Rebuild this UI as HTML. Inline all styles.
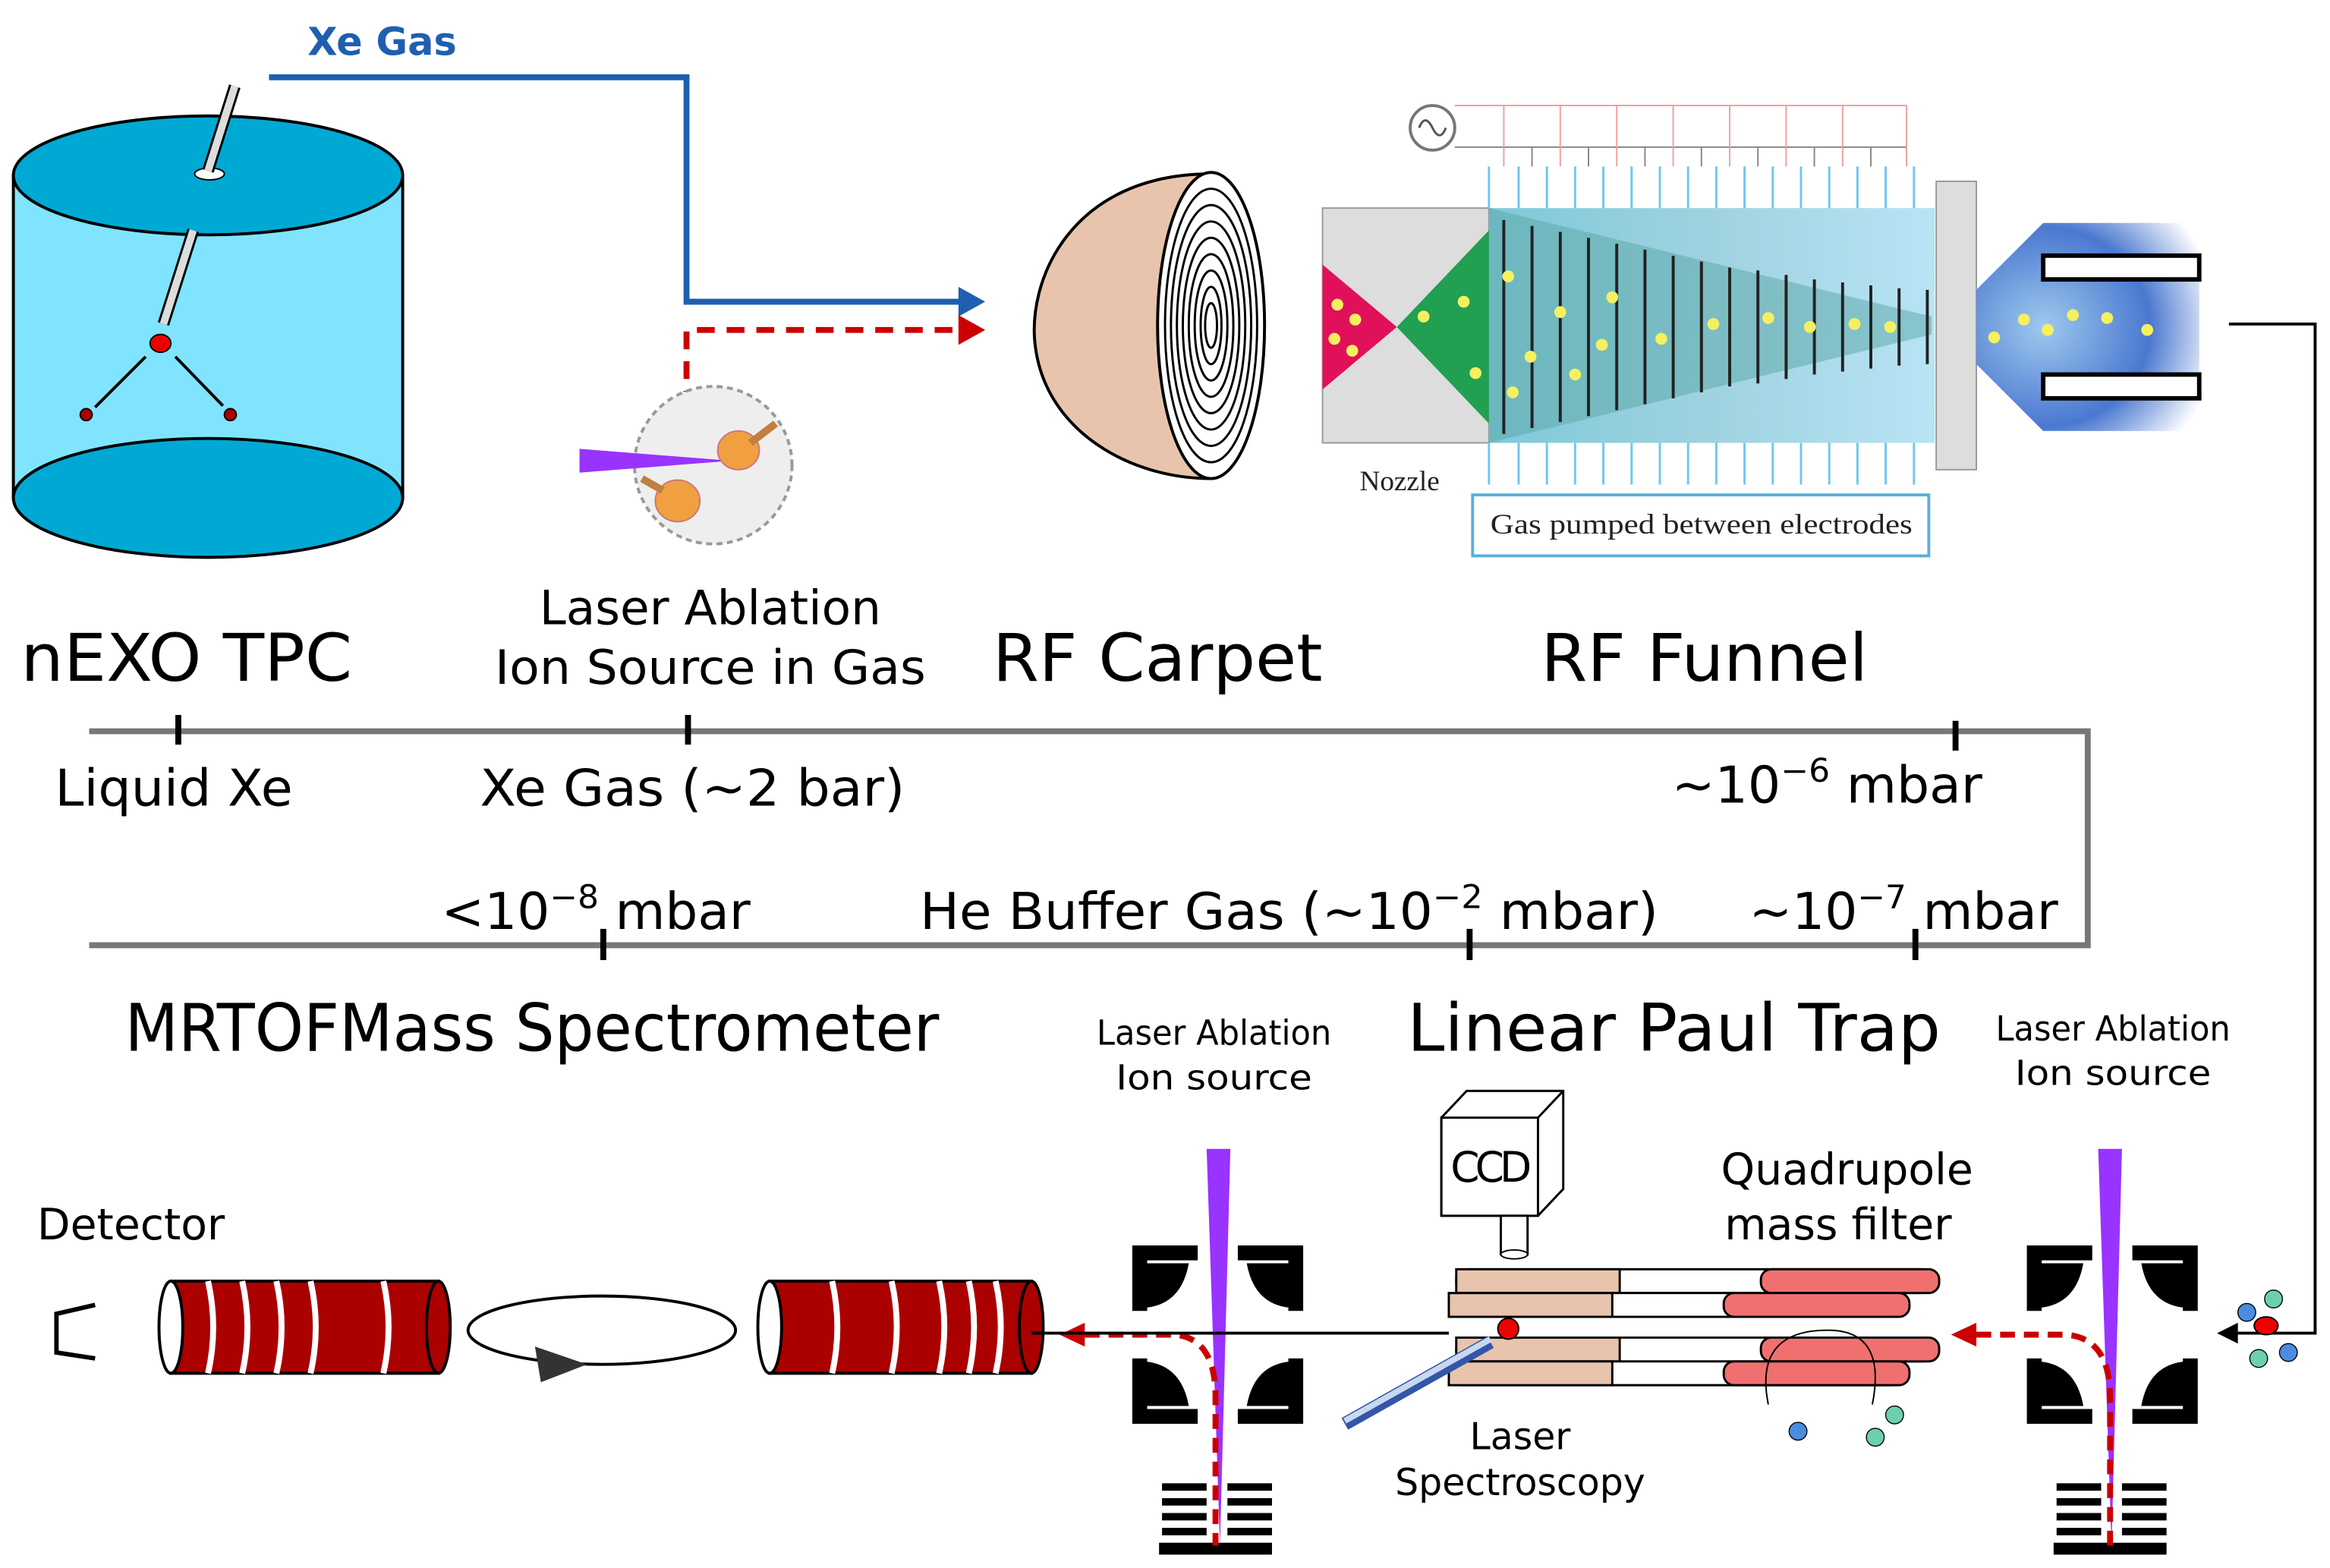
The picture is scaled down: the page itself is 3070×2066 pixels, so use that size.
<!DOCTYPE html>
<html><head><meta charset="utf-8"><style>html,body{margin:0;padding:0;background:#fff}svg{display:block}</style></head><body>
<svg width="3070" height="2066" viewBox="0 0 1568 1055" preserveAspectRatio="none" xmlns="http://www.w3.org/2000/svg" font-family="DejaVu Sans, Liberation Sans, sans-serif">
<defs>
<linearGradient id="fun" x1="0" x2="1"><stop offset="0" stop-color="#7fc9d9"/><stop offset="0.5" stop-color="#9fd2e0"/><stop offset="1" stop-color="#b8e4f5"/></linearGradient>
<radialGradient id="cone" cx="0.3" cy="0.5" r="0.8"><stop offset="0" stop-color="#9ec9ee"/><stop offset="0.6" stop-color="#4a78d0"/><stop offset="1" stop-color="#fff"/></radialGradient>
</defs>
<!-- TPC -->
<rect x="9" y="118" width="262" height="217" fill="#80e4ff" stroke="#000" stroke-width="2"/>
<ellipse cx="140" cy="335" rx="131" ry="40" fill="#00a9d4" stroke="#000" stroke-width="2"/>
<ellipse cx="140" cy="118" rx="131" ry="40" fill="#00a9d4" stroke="#000" stroke-width="2"/>
<ellipse cx="141" cy="117" rx="10" ry="4" fill="#fff" stroke="#000"/>
<line x1="158" y1="58" x2="140" y2="115" stroke="#000" stroke-width="8"/><line x1="158" y1="58" x2="140" y2="115" stroke="#ddd" stroke-width="5"/>
<line x1="130" y1="155" x2="110" y2="218" stroke="#000" stroke-width="8"/><line x1="130" y1="155" x2="110" y2="218" stroke="#ddd" stroke-width="5"/>
<ellipse cx="108" cy="231" rx="7" ry="6" fill="#e00" stroke="#000"/>
<line x1="98" y1="240" x2="64" y2="274" stroke="#000" stroke-width="2"/><line x1="118" y1="240" x2="150" y2="273" stroke="#000" stroke-width="2"/>
<ellipse cx="58" cy="279" rx="4" ry="4" fill="#a00" stroke="#000"/><ellipse cx="155" cy="279" rx="4" ry="4" fill="#a00" stroke="#000"/>
<!-- Xe gas line -->
<text x="207" y="37" font-size="26" font-weight="bold" fill="#1f5fb0">Xe Gas</text>
<polyline points="181,52 462,52 462,203 648,203" fill="none" stroke="#1f5fb0" stroke-width="4"/>
<polygon points="663,203 645,193 645,213" fill="#1f5fb0"/>
<polyline points="462,275 462,222 648,222" fill="none" stroke="#c00" stroke-width="4" stroke-dasharray="12,8"/>
<polygon points="663,222 645,212 645,232" fill="#c00"/>
<!-- ablation circle -->
<circle cx="480" cy="313" r="53" fill="#eee" stroke="#999" stroke-width="2" stroke-dasharray="4,3"/>
<polygon points="390,302 390,318 492,310" fill="#9933ff"/>
<ellipse cx="497" cy="303" rx="14" ry="13" fill="#f0a040" stroke="#c77"/>
<line x1="505" y1="298" x2="522" y2="285" stroke="#c08040" stroke-width="5"/>
<ellipse cx="456" cy="337" rx="15" ry="14" fill="#f0a040" stroke="#c77"/>
<line x1="446" y1="330" x2="432" y2="322" stroke="#c08040" stroke-width="5"/>
<!-- RF carpet -->
<path d="M815,117 C720,117 690,190 697,235 C705,290 760,322 815,322 Z" fill="#e8c4ac" stroke="#000" stroke-width="2"/>
<ellipse cx="815" cy="219" rx="36" ry="103" fill="#fff" stroke="#000" stroke-width="2"/>
<g fill="none" stroke="#000" stroke-width="1.5">
<ellipse cx="815" cy="219" rx="31" ry="92"/><ellipse cx="815" cy="219" rx="27" ry="81"/><ellipse cx="815" cy="219" rx="23" ry="70"/><ellipse cx="815" cy="219" rx="19" ry="59"/><ellipse cx="815" cy="219" rx="15" ry="48"/><ellipse cx="815" cy="219" rx="11" ry="37"/><ellipse cx="815" cy="219" rx="7" ry="26"/><ellipse cx="815" cy="219" rx="4" ry="15"/></g>
<!-- RF funnel -->
<circle cx="964" cy="86" r="15" fill="#fff" stroke="#777" stroke-width="2"/>
<path d="M955,86 q4,-10 9,0 q5,10 9,0" fill="none" stroke="#555" stroke-width="1.5"/>
<line x1="979" y1="71" x2="1283" y2="71" stroke="#f0a0a0"/><line x1="979" y1="99" x2="1283" y2="99" stroke="#888"/>
<g stroke="#f0a0a0"><line x1="1012" y1="71" x2="1012" y2="112"/><line x1="1050" y1="71" x2="1050" y2="112"/><line x1="1088" y1="71" x2="1088" y2="112"/><line x1="1126" y1="71" x2="1126" y2="112"/><line x1="1164" y1="71" x2="1164" y2="112"/><line x1="1202" y1="71" x2="1202" y2="112"/><line x1="1240" y1="71" x2="1240" y2="112"/><line x1="1283" y1="71" x2="1283" y2="112"/></g>
<g stroke="#888"><line x1="1031" y1="99" x2="1031" y2="112"/><line x1="1069" y1="99" x2="1069" y2="112"/><line x1="1107" y1="99" x2="1107" y2="112"/><line x1="1145" y1="99" x2="1145" y2="112"/><line x1="1183" y1="99" x2="1183" y2="112"/><line x1="1221" y1="99" x2="1221" y2="112"/><line x1="1259" y1="99" x2="1259" y2="112"/></g>
<rect x="890" y="140" width="112" height="158" fill="#ddd" stroke="#999"/>
<rect x="1002" y="140" width="300" height="158" fill="url(#fun)"/>
<polygon points="1002,140 1002,298 1300,225 1300,213" fill="#5aa5a5" opacity="0.5"/>
<polygon points="890,178 890,262 940,220" fill="#e0105a"/>
<polygon points="940,220 1002,155 1002,285" fill="#20a050"/>
<rect x="1303" y="122" width="27" height="194" fill="#ddd" stroke="#999"/>
<g stroke="#222" stroke-width="2">
<line x1="1012" y1="148" x2="1012" y2="292"/><line x1="1031" y1="152" x2="1031" y2="288"/><line x1="1050" y1="156" x2="1050" y2="284"/><line x1="1069" y1="160" x2="1069" y2="280"/><line x1="1088" y1="164" x2="1088" y2="276"/><line x1="1107" y1="168" x2="1107" y2="272"/><line x1="1126" y1="172" x2="1126" y2="268"/><line x1="1145" y1="176" x2="1145" y2="264"/><line x1="1164" y1="180" x2="1164" y2="260"/><line x1="1183" y1="182" x2="1183" y2="258"/><line x1="1202" y1="185" x2="1202" y2="255"/><line x1="1221" y1="188" x2="1221" y2="252"/><line x1="1240" y1="190" x2="1240" y2="250"/><line x1="1259" y1="192" x2="1259" y2="248"/><line x1="1278" y1="194" x2="1278" y2="246"/><line x1="1297" y1="195" x2="1297" y2="245"/></g>
<g stroke="#6cc8f0" stroke-width="1.5">
<line x1="1002" y1="112" x2="1002" y2="140"/><line x1="1022" y1="112" x2="1022" y2="140"/><line x1="1041" y1="112" x2="1041" y2="140"/><line x1="1060" y1="112" x2="1060" y2="140"/><line x1="1079" y1="112" x2="1079" y2="140"/><line x1="1098" y1="112" x2="1098" y2="140"/><line x1="1117" y1="112" x2="1117" y2="140"/><line x1="1136" y1="112" x2="1136" y2="140"/><line x1="1155" y1="112" x2="1155" y2="140"/><line x1="1174" y1="112" x2="1174" y2="140"/><line x1="1193" y1="112" x2="1193" y2="140"/><line x1="1212" y1="112" x2="1212" y2="140"/><line x1="1231" y1="112" x2="1231" y2="140"/><line x1="1250" y1="112" x2="1250" y2="140"/><line x1="1269" y1="112" x2="1269" y2="140"/><line x1="1288" y1="112" x2="1288" y2="140"/>
<line x1="1002" y1="298" x2="1002" y2="326"/><line x1="1022" y1="298" x2="1022" y2="326"/><line x1="1041" y1="298" x2="1041" y2="326"/><line x1="1060" y1="298" x2="1060" y2="326"/><line x1="1079" y1="298" x2="1079" y2="326"/><line x1="1098" y1="298" x2="1098" y2="326"/><line x1="1117" y1="298" x2="1117" y2="326"/><line x1="1136" y1="298" x2="1136" y2="326"/><line x1="1155" y1="298" x2="1155" y2="326"/><line x1="1174" y1="298" x2="1174" y2="326"/><line x1="1193" y1="298" x2="1193" y2="326"/><line x1="1212" y1="298" x2="1212" y2="326"/><line x1="1231" y1="298" x2="1231" y2="326"/><line x1="1250" y1="298" x2="1250" y2="326"/><line x1="1269" y1="298" x2="1269" y2="326"/><line x1="1288" y1="298" x2="1288" y2="326"/></g>
<g fill="#f5f060"><circle cx="900" cy="205" r="4"/><circle cx="912" cy="215" r="4"/><circle cx="898" cy="228" r="4"/><circle cx="910" cy="236" r="4"/><circle cx="958" cy="213" r="4"/><circle cx="985" cy="203" r="4"/><circle cx="1015" cy="186" r="4"/><circle cx="1050" cy="210" r="4"/><circle cx="1085" cy="200" r="4"/><circle cx="1030" cy="240" r="4"/><circle cx="1078" cy="232" r="4"/><circle cx="1118" cy="228" r="4"/><circle cx="1153" cy="218" r="4"/><circle cx="1190" cy="214" r="4"/><circle cx="1218" cy="220" r="4"/><circle cx="1248" cy="218" r="4"/><circle cx="1272" cy="220" r="4"/><circle cx="1018" cy="264" r="4"/><circle cx="993" cy="251" r="4"/><circle cx="1060" cy="252" r="4"/></g>
<path d="M1330,195 L1375,150 L1480,150 L1480,290 L1375,290 L1330,245 Z" fill="url(#cone)"/>
<rect x="1375" y="172" width="105" height="16" fill="#fff" stroke="#000" stroke-width="3"/>
<rect x="1375" y="252" width="105" height="16" fill="#fff" stroke="#000" stroke-width="3"/>
<g fill="#f5f060"><circle cx="1342" cy="227" r="4"/><circle cx="1362" cy="215" r="4"/><circle cx="1378" cy="222" r="4"/><circle cx="1395" cy="212" r="4"/><circle cx="1418" cy="214" r="4"/><circle cx="1445" cy="222" r="4"/></g>
<text x="915" y="330" font-size="19" font-family="Liberation Serif, serif" fill="#222">Nozzle</text>
<rect x="991" y="333" width="307" height="41" fill="#fff" stroke="#5ab0d8" stroke-width="2"/>
<text x="1145" y="359" font-size="19" font-family="Liberation Serif, serif" text-anchor="middle" fill="#222" textLength="284" lengthAdjust="spacingAndGlyphs">Gas pumped between electrodes</text>
<!-- right connector -->
<polyline points="1500,218 1558,218 1558,897 1505,897" fill="none" stroke="#000" stroke-width="2"/>
<polygon points="1492,897 1506,890 1506,904" fill="#000"/>
<!-- labels -->
<text x="14" y="458" font-size="44" textLength="223" lengthAdjust="spacingAndGlyphs">nEXO TPC</text>
<text x="478" y="420" font-size="32" text-anchor="middle" textLength="230" lengthAdjust="spacingAndGlyphs">Laser Ablation</text>
<text x="478" y="460" font-size="32" text-anchor="middle" textLength="290" lengthAdjust="spacingAndGlyphs">Ion Source in Gas</text>
<text x="668" y="458" font-size="44" textLength="222" lengthAdjust="spacingAndGlyphs">RF Carpet</text>
<text x="1037" y="458" font-size="44" textLength="220" lengthAdjust="spacingAndGlyphs">RF Funnel</text>
<polyline points="60,492 1405,492 1405,636 60,636" fill="none" stroke="#777" stroke-width="4"/>
<g stroke="#000" stroke-width="4"><line x1="120" y1="481" x2="120" y2="501"/><line x1="463" y1="481" x2="463" y2="501"/><line x1="1316" y1="485" x2="1316" y2="505"/><line x1="406" y1="625" x2="406" y2="646"/><line x1="989" y1="625" x2="989" y2="646"/><line x1="1289" y1="625" x2="1289" y2="646"/></g>
<text x="37" y="542" font-size="34" textLength="160" lengthAdjust="spacingAndGlyphs">Liquid Xe</text>
<text x="323" y="542" font-size="34" textLength="286" lengthAdjust="spacingAndGlyphs">Xe Gas (~2 bar)</text>
<text x="1125" y="540" font-size="34" textLength="209" lengthAdjust="spacingAndGlyphs">~10<tspan font-size="22" dy="-14">−6</tspan><tspan dy="14"> mbar</tspan></text>
<text x="297" y="625" font-size="34" textLength="208" lengthAdjust="spacingAndGlyphs">&lt;10<tspan font-size="22" dy="-14">−8</tspan><tspan dy="14"> mbar</tspan></text>
<text x="619" y="625" font-size="34" textLength="497" lengthAdjust="spacingAndGlyphs">He Buffer Gas (~10<tspan font-size="22" dy="-14">−2</tspan><tspan dy="14"> mbar)</tspan></text>
<text x="1177" y="625" font-size="34" textLength="208" lengthAdjust="spacingAndGlyphs">~10<tspan font-size="22" dy="-14">−7</tspan><tspan dy="14"> mbar</tspan></text>
<text x="84" y="707" font-size="44" textLength="548" lengthAdjust="spacingAndGlyphs">MRTOFMass Spectrometer</text>
<text x="817" y="703" font-size="23" text-anchor="middle" textLength="158" lengthAdjust="spacingAndGlyphs">Laser Ablation</text>
<text x="817" y="733" font-size="23" text-anchor="middle" textLength="132" lengthAdjust="spacingAndGlyphs">Ion source</text>
<text x="947" y="707" font-size="44" textLength="359" lengthAdjust="spacingAndGlyphs">Linear Paul Trap</text>
<text x="1422" y="700" font-size="23" text-anchor="middle" textLength="158" lengthAdjust="spacingAndGlyphs">Laser Ablation</text>
<text x="1422" y="730" font-size="23" text-anchor="middle" textLength="132" lengthAdjust="spacingAndGlyphs">Ion source</text>
<text x="25" y="834" font-size="29">Detector</text>
<text x="1243" y="797" font-size="29" text-anchor="middle">Quadrupole</text>
<text x="1237" y="834" font-size="29" text-anchor="middle">mass filter</text>
<text x="1023" y="975" font-size="25" text-anchor="middle">Laser</text>
<text x="1023" y="1006" font-size="25" text-anchor="middle">Spectroscopy</text>
<!-- detector -->
<polyline points="64,878 38,884 38,910 64,914" fill="none" stroke="#000" stroke-width="3"/>
<!-- MRTOF -->
<g stroke="#000" stroke-width="2">
<rect x="115" y="862" width="180" height="62" fill="#a00"/>
<ellipse cx="115" cy="893" rx="8" ry="31" fill="#fff"/>
<ellipse cx="295" cy="893" rx="8" ry="31" fill="#a00"/>
<rect x="518" y="862" width="176" height="62" fill="#a00"/>
<ellipse cx="518" cy="893" rx="8" ry="31" fill="#fff"/>
<ellipse cx="694" cy="893" rx="8" ry="31" fill="#a00"/></g>
<g stroke="#fff" stroke-width="4" fill="none"><path d="M140,862 q7,31 0,62"/><path d="M163,862 q7,31 0,62"/><path d="M186,862 q7,31 0,62"/><path d="M209,862 q7,31 0,62"/><path d="M258,862 q7,31 0,62"/>
<path d="M560,862 q7,31 0,62"/><path d="M600,862 q7,31 0,62"/><path d="M632,862 q7,31 0,62"/><path d="M652,862 q7,31 0,62"/><path d="M670,862 q7,31 0,62"/></g>
<ellipse cx="405" cy="895" rx="90" ry="23" fill="none" stroke="#000" stroke-width="2"/>
<polygon points="395,918 360,906 364,930" fill="#333"/>
<!-- left quad -->
<g fill="#000">
<path d="M762,838 h44 v10 h-34 v34 h-10z"/><path d="M770,850 h30 q-5,28 -30,30z"/>
<path d="M877,838 h-44 v10 h34 v34 h10z"/><path d="M869,850 h-30 q5,28 30,30z"/>
<path d="M762,958 h44 v-10 h-34 v-34 h-10z"/><path d="M770,946 h30 q-5,-28 -30,-30z"/>
<path d="M877,958 h-44 v-10 h34 v-34 h10z"/><path d="M869,946 h-30 q5,-28 30,-30z"/>
<rect x="782" y="998" width="30" height="5"/><rect x="782" y="1008" width="30" height="5"/><rect x="782" y="1018" width="30" height="5"/><rect x="782" y="1028" width="30" height="5"/>
<rect x="826" y="998" width="30" height="5"/><rect x="826" y="1008" width="30" height="5"/><rect x="826" y="1018" width="30" height="5"/><rect x="826" y="1028" width="30" height="5"/>
<rect x="780" y="1038" width="76" height="8"/></g>
<polygon points="812,773 828,773 821,1040" fill="#9933ff"/>
<path d="M730,898 L790,898 Q818,900 818,940 L818,1040" fill="none" stroke="#c00" stroke-width="4" stroke-dasharray="10,6"/>
<polygon points="713,898 730,890 730,906" fill="#c00"/>
<!-- right quad -->
<g fill="#000">
<path d="M1364,838 h44 v10 h-34 v34 h-10z"/><path d="M1372,850 h30 q-5,28 -30,30z"/>
<path d="M1479,838 h-44 v10 h34 v34 h10z"/><path d="M1471,850 h-30 q5,28 30,30z"/>
<path d="M1364,958 h44 v-10 h-34 v-34 h-10z"/><path d="M1372,946 h30 q-5,-28 -30,-30z"/>
<path d="M1479,958 h-44 v-10 h34 v-34 h10z"/><path d="M1471,946 h-30 q5,-28 30,-30z"/>
<rect x="1384" y="998" width="30" height="5"/><rect x="1384" y="1008" width="30" height="5"/><rect x="1384" y="1018" width="30" height="5"/><rect x="1384" y="1028" width="30" height="5"/>
<rect x="1428" y="998" width="30" height="5"/><rect x="1428" y="1008" width="30" height="5"/><rect x="1428" y="1018" width="30" height="5"/><rect x="1428" y="1028" width="30" height="5"/>
<rect x="1382" y="1038" width="76" height="8"/></g>
<polygon points="1412,773 1428,773 1421,1040" fill="#9933ff"/>
<path d="M1330,898 L1390,898 Q1420,900 1420,940 L1420,1040" fill="none" stroke="#c00" stroke-width="4" stroke-dasharray="10,6"/>
<polygon points="1313,898 1330,890 1330,906" fill="#c00"/>
<ellipse cx="1525" cy="892" rx="8" ry="6" fill="#e00" stroke="#000"/>
<circle cx="1512" cy="883" r="6" fill="#4a8de0" stroke="#000" stroke-width="0.7"/><circle cx="1530" cy="874" r="6" fill="#6cd0b0" stroke="#000" stroke-width="0.7"/><circle cx="1540" cy="910" r="6" fill="#4a8de0" stroke="#000" stroke-width="0.7"/><circle cx="1520" cy="914" r="6" fill="#6cd0b0" stroke="#000" stroke-width="0.7"/>
<!-- Paul trap -->
<line x1="694" y1="897" x2="975" y2="897" stroke="#000" stroke-width="2"/>
<g stroke="#000" stroke-width="1.5">
<rect x="980" y="854" width="320" height="16" rx="7" fill="#fff"/><rect x="980" y="854" width="110" height="16" fill="#e8c4ac"/><rect x="1185" y="854" width="120" height="16" rx="7" fill="#f07070"/>
<rect x="975" y="870" width="305" height="16" rx="7" fill="#fff"/><rect x="975" y="870" width="110" height="16" fill="#e8c4ac"/><rect x="1160" y="870" width="125" height="16" rx="7" fill="#f07070"/>
<rect x="980" y="900" width="320" height="16" rx="7" fill="#fff"/><rect x="980" y="900" width="110" height="16" fill="#e8c4ac"/><rect x="1185" y="900" width="120" height="16" rx="7" fill="#f07070"/>
<rect x="975" y="916" width="305" height="16" rx="7" fill="#fff"/><rect x="975" y="916" width="110" height="16" fill="#e8c4ac"/><rect x="1160" y="916" width="125" height="16" rx="7" fill="#f07070"/></g>
<circle cx="1015" cy="894" r="7" fill="#e00" stroke="#000"/>
<line x1="905" y1="958" x2="1003" y2="903" stroke="#3355aa" stroke-width="9"/><line x1="905" y1="956" x2="1003" y2="901" stroke="#c8d8f0" stroke-width="4"/>
<path d="M1190,945 q-10,-50 40,-50 q40,0 30,50" fill="none" stroke="#000"/>
<circle cx="1210" cy="963" r="6" fill="#4a8de0" stroke="#000" stroke-width="0.7"/><circle cx="1275" cy="952" r="6" fill="#6cd0b0" stroke="#000" stroke-width="0.7"/><circle cx="1262" cy="967" r="6" fill="#6cd0b0" stroke="#000" stroke-width="0.7"/>
<!-- CCD -->
<polygon points="970,752 987,734 1052,734 1052,800 1035,818 970,818" fill="#fff" stroke="#000" stroke-width="1.5"/>
<rect x="970" y="752" width="65" height="66" fill="#fff" stroke="#000" stroke-width="1.5"/>
<line x1="1035" y1="752" x2="1052" y2="734" stroke="#000" stroke-width="1.5"/>
<text x="1002" y="795" font-size="28" text-anchor="middle" letter-spacing="-3">CCD</text>
<rect x="1010" y="818" width="18" height="26" fill="#fff" stroke="#000" stroke-width="1.5"/>
<ellipse cx="1019" cy="844" rx="9" ry="3" fill="#fff" stroke="#000"/>
</svg>
</body></html>
